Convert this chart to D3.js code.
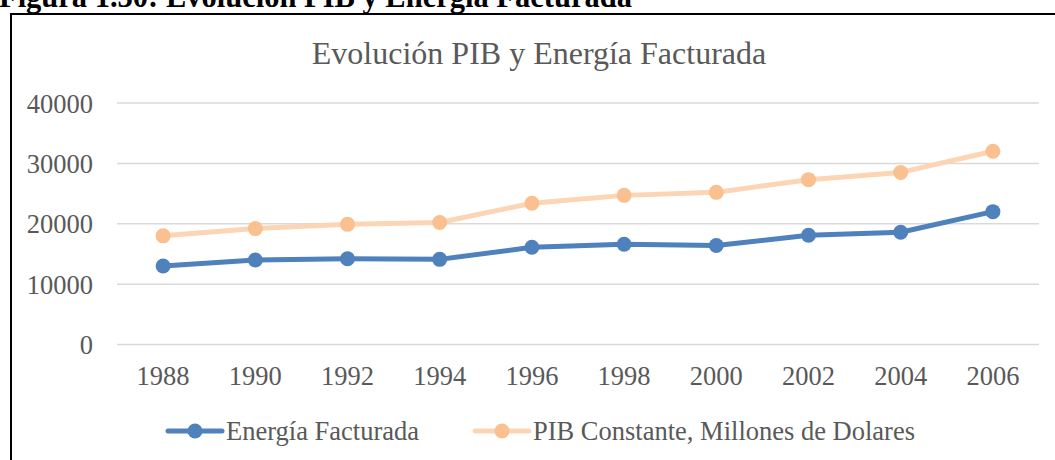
<!DOCTYPE html>
<html>
<head>
<meta charset="utf-8">
<script src="https://cdn.jsdelivr.net/npm/d3@7"></script>
<style>
	body { margin: 0; background: #fff; }
	svg { display: block; }
	text { font-family: "Liberation Serif", "Times New Roman", serif; }
</style>
</head>
<body>
<div id="chart"></div>
<script>
	// data
	var years = ['1988', '1990', '1992', '1994', '1996', '1998', '2000', '2002', '2004', '2006'];
	var energia = [13000, 14000, 14200, 14100, 16100, 16600, 16400, 18100, 18600, 22000];
	var pib = [18000, 19200, 19900, 20200, 23400, 24700, 25200, 27300, 28500, 32000];
	var yTicks = [0, 10000, 20000, 30000, 40000];
	var seriesNames = ['Energía Facturada', 'PIB Constante, Millones de Dolares'];

	var width = 1055, height = 460;
	var plot = { left: 117, right: 1039, top: 103, bottom: 344.5 };
	var labelSize = 26.5;

	var svg = d3.select('#chart')
		.append('svg')
		.attr('width', width)
		.attr('height', height);

	// figure caption, cut by the top edge
	svg.append('text')
		.attr('x', -1)
		.attr('y', 7)
		.attr('font-size', 30.5)
		.attr('font-weight', 'bold')
		.attr('fill', '#000')
		.text('Figura 1.30: Evolución PIB y Energía Facturada');

	// chart frame
	svg.append('rect')
		.attr('x', 11)
		.attr('y', 14)
		.attr('width', width + 20)
		.attr('height', height + 20)
		.attr('fill', 'none')
		.attr('stroke', '#000')
		.attr('stroke-width', 2);

	svg.append('text')
		.attr('x', 539)
		.attr('y', 64)
		.attr('text-anchor', 'middle')
		.attr('font-size', 32)
		.attr('fill', '#595959')
		.text('Evolución PIB y Energía Facturada');

	var x = d3.scaleBand()
		.domain(years)
		.range([plot.left, plot.right]);

	var y = d3.scaleLinear()
		.domain([0, 40000])
		.range([plot.bottom, plot.top]);

	// gridlines
	svg.append('g')
		.selectAll('line')
		.data(yTicks)
		.enter()
		.append('line')
		.attr('x1', plot.left)
		.attr('x2', plot.right)
		.attr('y1', function(d) { return y(d); })
		.attr('y2', function(d) { return y(d); })
		.attr('stroke', '#D9D9D9')
		.attr('stroke-width', 1.5);

	// y axis labels
	var yAxis = svg.append('g')
		.attr('transform', 'translate(' + (plot.left - 24) + ',0)')
		.call(d3.axisLeft(y).tickValues(yTicks).tickSize(0).tickPadding(0).tickFormat(d3.format('d')));
	yAxis.select('.domain').remove();
	yAxis.selectAll('text')
		.attr('font-size', labelSize)
		.attr('fill', '#595959')
		.attr('dy', '0.34em');

	// x axis labels
	var xAxis = svg.append('g')
		.attr('transform', 'translate(0,' + (plot.bottom + 22) + ')')
		.call(d3.axisBottom(x).tickSize(0).tickPadding(0));
	xAxis.select('.domain').remove();
	xAxis.selectAll('text')
		.attr('font-size', labelSize)
		.attr('fill', '#595959')
		.attr('dy', '0.71em');

	var series = [
		{ name: seriesNames[0], values: energia, line: '#4F81BD', marker: '#4F81BD' },
		{ name: seriesNames[1], values: pib, line: '#FCD5B4', marker: '#FAC090' }
	];

	var cx = function(i) { return x(years[i]) + x.bandwidth() / 2; };
	var line = d3.line()
		.x(function(d, i) { return cx(i); })
		.y(function(d) { return y(d); });

	// draw PIB first so the blue sits on top, as in the picture
	series.slice().reverse().forEach(function(s) {
		var g = svg.append('g');
		g.append('path')
			.attr('d', line(s.values))
			.attr('fill', 'none')
			.attr('stroke', s.line)
			.attr('stroke-width', 5)
			.attr('stroke-linejoin', 'round');
		g.selectAll('circle')
			.data(s.values)
			.enter()
			.append('circle')
			.attr('cx', function(d, i) { return cx(i); })
			.attr('cy', function(d) { return y(d); })
			.attr('r', 7.5)
			.attr('fill', s.marker);
	});

	// legend
	var legendX = [168, 475];
	var legendY = 431;
	series.forEach(function(s, i) {
		var g = svg.append('g')
			.attr('transform', 'translate(' + legendX[i] + ',' + legendY + ')');
		g.append('line')
			.attr('x1', 0)
			.attr('x2', 54)
			.attr('stroke', s.line)
			.attr('stroke-width', 5)
			.attr('stroke-linecap', 'round');
		g.append('circle')
			.attr('cx', 27)
			.attr('r', 7.5)
			.attr('fill', s.marker);
		g.append('text')
			.attr('x', 58)
			.attr('dy', '0.34em')
			.attr('font-size', labelSize)
			.attr('fill', '#595959')
			.text(s.name);
	});
</script>
</body>
</html>
